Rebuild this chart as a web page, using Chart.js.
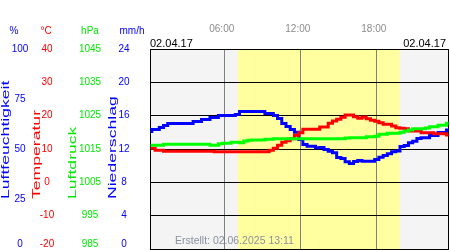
<!DOCTYPE html>
<html>
<head>
<meta charset="utf-8">
<script src="https://cdn.jsdelivr.net/npm/chart.js@4.4.1/dist/chart.umd.min.js"></script>
<style>
  html, body { margin: 0; padding: 0; background: #fff; }
  #wrap { width: 450px; height: 250px; }
</style>
</head>
<body>
<div id="wrap"><canvas id="chart" width="450" height="250"></canvas></div>
<script>
// measurement times (hh:mm) for 02.04.17
const times = ['00:09', '00:20', '00:40', '01:00', '01:20', '01:40', '02:00', '02:20', '02:40', '03:00', '03:20', '03:40',
  '04:00', '04:20', '04:40', '05:00', '05:20', '05:40', '06:00', '06:20', '06:40', '07:00', '07:20', '07:40',
  '08:00', '08:20', '08:40', '09:00', '09:20', '09:40', '10:00', '10:20', '10:40', '11:00', '11:20', '11:40',
  '12:00', '12:20', '12:40', '13:00', '13:20', '13:40', '14:00', '14:20', '14:40', '15:00', '15:20', '15:40',
  '16:00', '16:20', '16:40', '17:00', '17:20', '17:40', '18:00', '18:20', '18:40', '19:00', '19:20', '19:40',
  '20:00', '20:20', '20:40', '21:00', '21:20', '21:40', '22:00', '22:20', '22:40', '23:00', '23:20', '23:40'];

// Luftfeuchtigkeit (%)
const humidity = [58.8, 59.8, 59.8, 60.8, 61.8, 62.8, 62.8, 62.8, 62.8, 62.8, 62.8, 63.7,
  63.7, 64.8, 64.8, 65.8, 65.8, 66.8, 66.8, 66.8, 66.8, 67.3, 68.7, 68.7,
  68.7, 68.7, 68.7, 68.7, 67.7, 67.7, 66.8, 65.3, 62.7, 61.2, 59.8, 58.4,
  54.8, 52.3, 51.4, 51.4, 50.6, 50.8, 49.7, 48.9, 48.1, 45.7, 45.2, 43.6,
  42.7, 43.7, 44.2, 43.9, 43.9, 43.9, 44.7, 45.9, 46.7, 47.6, 48.6, 49.0,
  51.3, 51.8, 53.1, 53.9, 55.3, 55.6, 55.6, 56.8, 56.8, 58.3, 58.3, 59.5];

// Temperatur (°C)
const temperature = [10.2, 10.2, 9.6, 9.6, 9.3, 9.3, 9.3, 9.3, 9.3, 9.3, 9.3, 9.3,
  9.3, 9.3, 9.3, 9.3, 9.2, 9.2, 9.2, 9.2, 9.2, 9.2, 9.2, 9.2,
  9.2, 9.2, 9.2, 9.2, 9.2, 9.6, 10.2, 11.1, 12.0, 12.5, 13.1, 14.1,
  14.9, 15.9, 15.9, 15.9, 15.9, 16.6, 16.6, 17.7, 18.4, 18.9, 19.5, 20.2,
  20.2, 19.7, 19.2, 19.6, 19.1, 18.6, 18.3, 17.9, 17.4, 17.4, 16.9, 16.4,
  16.2, 16.1, 15.4, 15.4, 15.4, 14.9, 14.9, 14.9, 14.6, 14.6, 14.6, 14.2];

// Luftdruck (hPa)
const pressure = [1016.1, 1016.1, 1016.1, 1016.1, 1016.4, 1016.4, 1016.4, 1016.4, 1016.4, 1016.4, 1016.4, 1016.4,
  1016.4, 1016.4, 1016.4, 1016.1, 1016.1, 1016.6, 1016.7, 1016.7, 1017.0, 1017.0, 1016.9, 1017.4,
  1017.6, 1017.7, 1017.7, 1017.7, 1017.9, 1017.9, 1018.1, 1018.1, 1018.1, 1018.1, 1018.1, 1018.1,
  1018.1, 1018.1, 1018.1, 1018.1, 1018.1, 1018.1, 1018.1, 1018.1, 1018.1, 1018.1, 1018.1, 1018.3,
  1018.4, 1018.4, 1018.4, 1018.4, 1018.7, 1018.7, 1018.8, 1019.4, 1019.4, 1019.7, 1019.7, 1019.7,
  1020.0, 1020.4, 1020.7, 1021.1, 1021.1, 1021.1, 1021.3, 1021.7, 1021.7, 1022.1, 1022.1, 1022.7];

// axis ticks
const hourTicks = [6, 12, 18];
const humTicks = [100, 75, 50, 25, 0];
const tempTicks = [40, 30, 20, 10, 0, -10, -20];
const pressTicks = [1045, 1035, 1025, 1015, 1005, 995, 985];
const rainTicks = [24, 20, 16, 12, 8, 4, 0];

// daylight (hours)
const sunrise = 7.03;
const sunset = 19.8;

const FONT = "'Liberation Sans', Arial, sans-serif";
const BLUE = '#0000ff', RED = '#ff0000', GREEN = '#00ff00', TXTGREEN = '#00e800';

const toHours = t => { const [h, m] = t.split(':'); return +h + (+m) / 60; };
const points = vals => vals.map((v, i) => ({ x: toHours(times[i]), y: v }));

const decor = {
    id: 'decor',
    beforeDraw(chart) {
        const { ctx, chartArea: a, scales } = chart;
        ctx.save();
        ctx.fillStyle = '#fff';
        ctx.fillRect(0, 0, chart.width, chart.height);
        ctx.fillStyle = '#f4f4f4';
        ctx.fillRect(a.left, a.top, a.right - a.left, a.bottom - a.top);
        const x1 = scales.x.getPixelForValue(sunrise);
        const x2 = scales.x.getPixelForValue(sunset);
        ctx.fillStyle = '#ffffa0';
        ctx.fillRect(x1, a.top, x2 - x1, a.bottom - a.top);
        ctx.restore();
    },
    beforeDatasetsDraw(chart) {
        const { ctx, chartArea: a } = chart;
        ctx.save();
        ctx.strokeStyle = '#000';
        ctx.lineWidth = 1;
        ctx.beginPath();
        ctx.moveTo(a.left + 0.5, a.top);
        ctx.lineTo(a.left + 0.5, a.bottom);
        ctx.moveTo(a.right - 0.5, a.top);
        ctx.lineTo(a.right - 0.5, a.bottom);
        ctx.stroke();
        ctx.restore();
    },
    afterDraw(chart) {
        const { ctx, scales } = chart;
        ctx.save();
        ctx.textAlign = 'center';
        ctx.textBaseline = 'alphabetic';
        ctx.font = '10px ' + FONT;
        // unit headers
        [['%', 14, BLUE], ['°C', 46, RED], ['hPa', 90, TXTGREEN], ['mm/h', 132, BLUE]].forEach(([t, x, c]) => {
            ctx.fillStyle = c;
            ctx.fillText(t, x, 34);
        });
        // tick value columns
        ctx.textBaseline = 'middle';
        const column = (ticks, scale, x, color) => {
            ctx.fillStyle = color;
            ticks.forEach(v => {
                const y = Math.min(scale.getPixelForValue(v), 244);
                ctx.fillText(String(v), x, y);
            });
        };
        column(humTicks, scales.yH, 20, BLUE);
        column(tempTicks, scales.yT, 47, RED);
        column(pressTicks, scales.yP, 90, TXTGREEN);
        column(rainTicks, scales.yN, 124, BLUE);

        // rotated axis titles
        ctx.textAlign = 'left';
        ctx.textBaseline = 'alphabetic';
        ctx.font = '11px ' + FONT;
        [['Luftfeuchtigkeit', 9, BLUE], ['Temperatur', 39.5, RED], ['Luftdruck', 75.5, TXTGREEN], ['Niederschlag', 116, BLUE]].forEach(([t, x, c]) => {
            ctx.save();
            ctx.translate(x, 199);
            ctx.rotate(-Math.PI / 2);
            ctx.scale(1.6, 1);
            ctx.fillStyle = c;
            ctx.fillText(t, 0, 0);
            ctx.restore();
        });

        // dates and footer
        ctx.font = '11px ' + FONT;
        ctx.fillStyle = '#000';
        ctx.fillText('02.04.17', 150, 47);
        ctx.textAlign = 'right';
        ctx.fillText('02.04.17', 446, 47);
        ctx.textAlign = 'left';
        ctx.font = '10.5px ' + FONT;
        ctx.fillStyle = '#8a90a0';
        ctx.fillText('Erstellt: 02.06.2025 13:11', 175, 244);
        ctx.restore();
    }
};

const series = (data, axis, color, order) => ({
    data: points(data),
    yAxisID: axis,
    stepped: 'middle',
    borderWidth: 3,
    borderCapStyle: 'butt',
    pointRadius: 0,
    pointHoverRadius: 0,
    backgroundColor: color,
    borderColor: color,
    order: order
});

new Chart(document.getElementById('chart'), {
    type: 'line',
    data: {
        datasets: [
            series(humidity, 'yH', BLUE, 3),
            series(temperature, 'yT', RED, 2),
            series(pressure, 'yP', GREEN, 1)
        ]
    },
    options: {
        responsive: false,
        animation: false,
        events: [],
        layout: { padding: { left: 150, right: 1, top: 9, bottom: 1 } },
        plugins: { legend: { display: false }, tooltip: { enabled: false } },
        scales: {
            x: {
                type: 'linear',
                position: 'top',
                min: 0.1,
                max: 23.7,
                afterBuildTicks: s => { s.ticks = hourTicks.map(v => ({ value: v })); },
                grid: { color: '#808080', drawTicks: false },
                border: { display: false },
                ticks: {
                    padding: 14,
                    labelOffset: -3,
                    maxRotation: 0,
                    autoSkip: false,
                    color: '#8c8c8c',
                    font: { family: FONT, size: 10 },
                    callback: v => (v < 10 ? '0' : '') + v + ':00'
                }
            },
            yT: {
                position: 'left',
                min: -20,
                max: 40,
                afterBuildTicks: s => { s.ticks = tempTicks.map(v => ({ value: v })); },
                grid: { color: '#000', drawTicks: false },
                border: { display: false },
                ticks: { display: false }
            },
            yH: { display: false, min: 0, max: 100 },
            yP: { display: false, min: 985, max: 1045 },
            yN: { display: false, min: 0, max: 24 }
        }
    },
    plugins: [decor]
});
</script>
</body>
</html>
